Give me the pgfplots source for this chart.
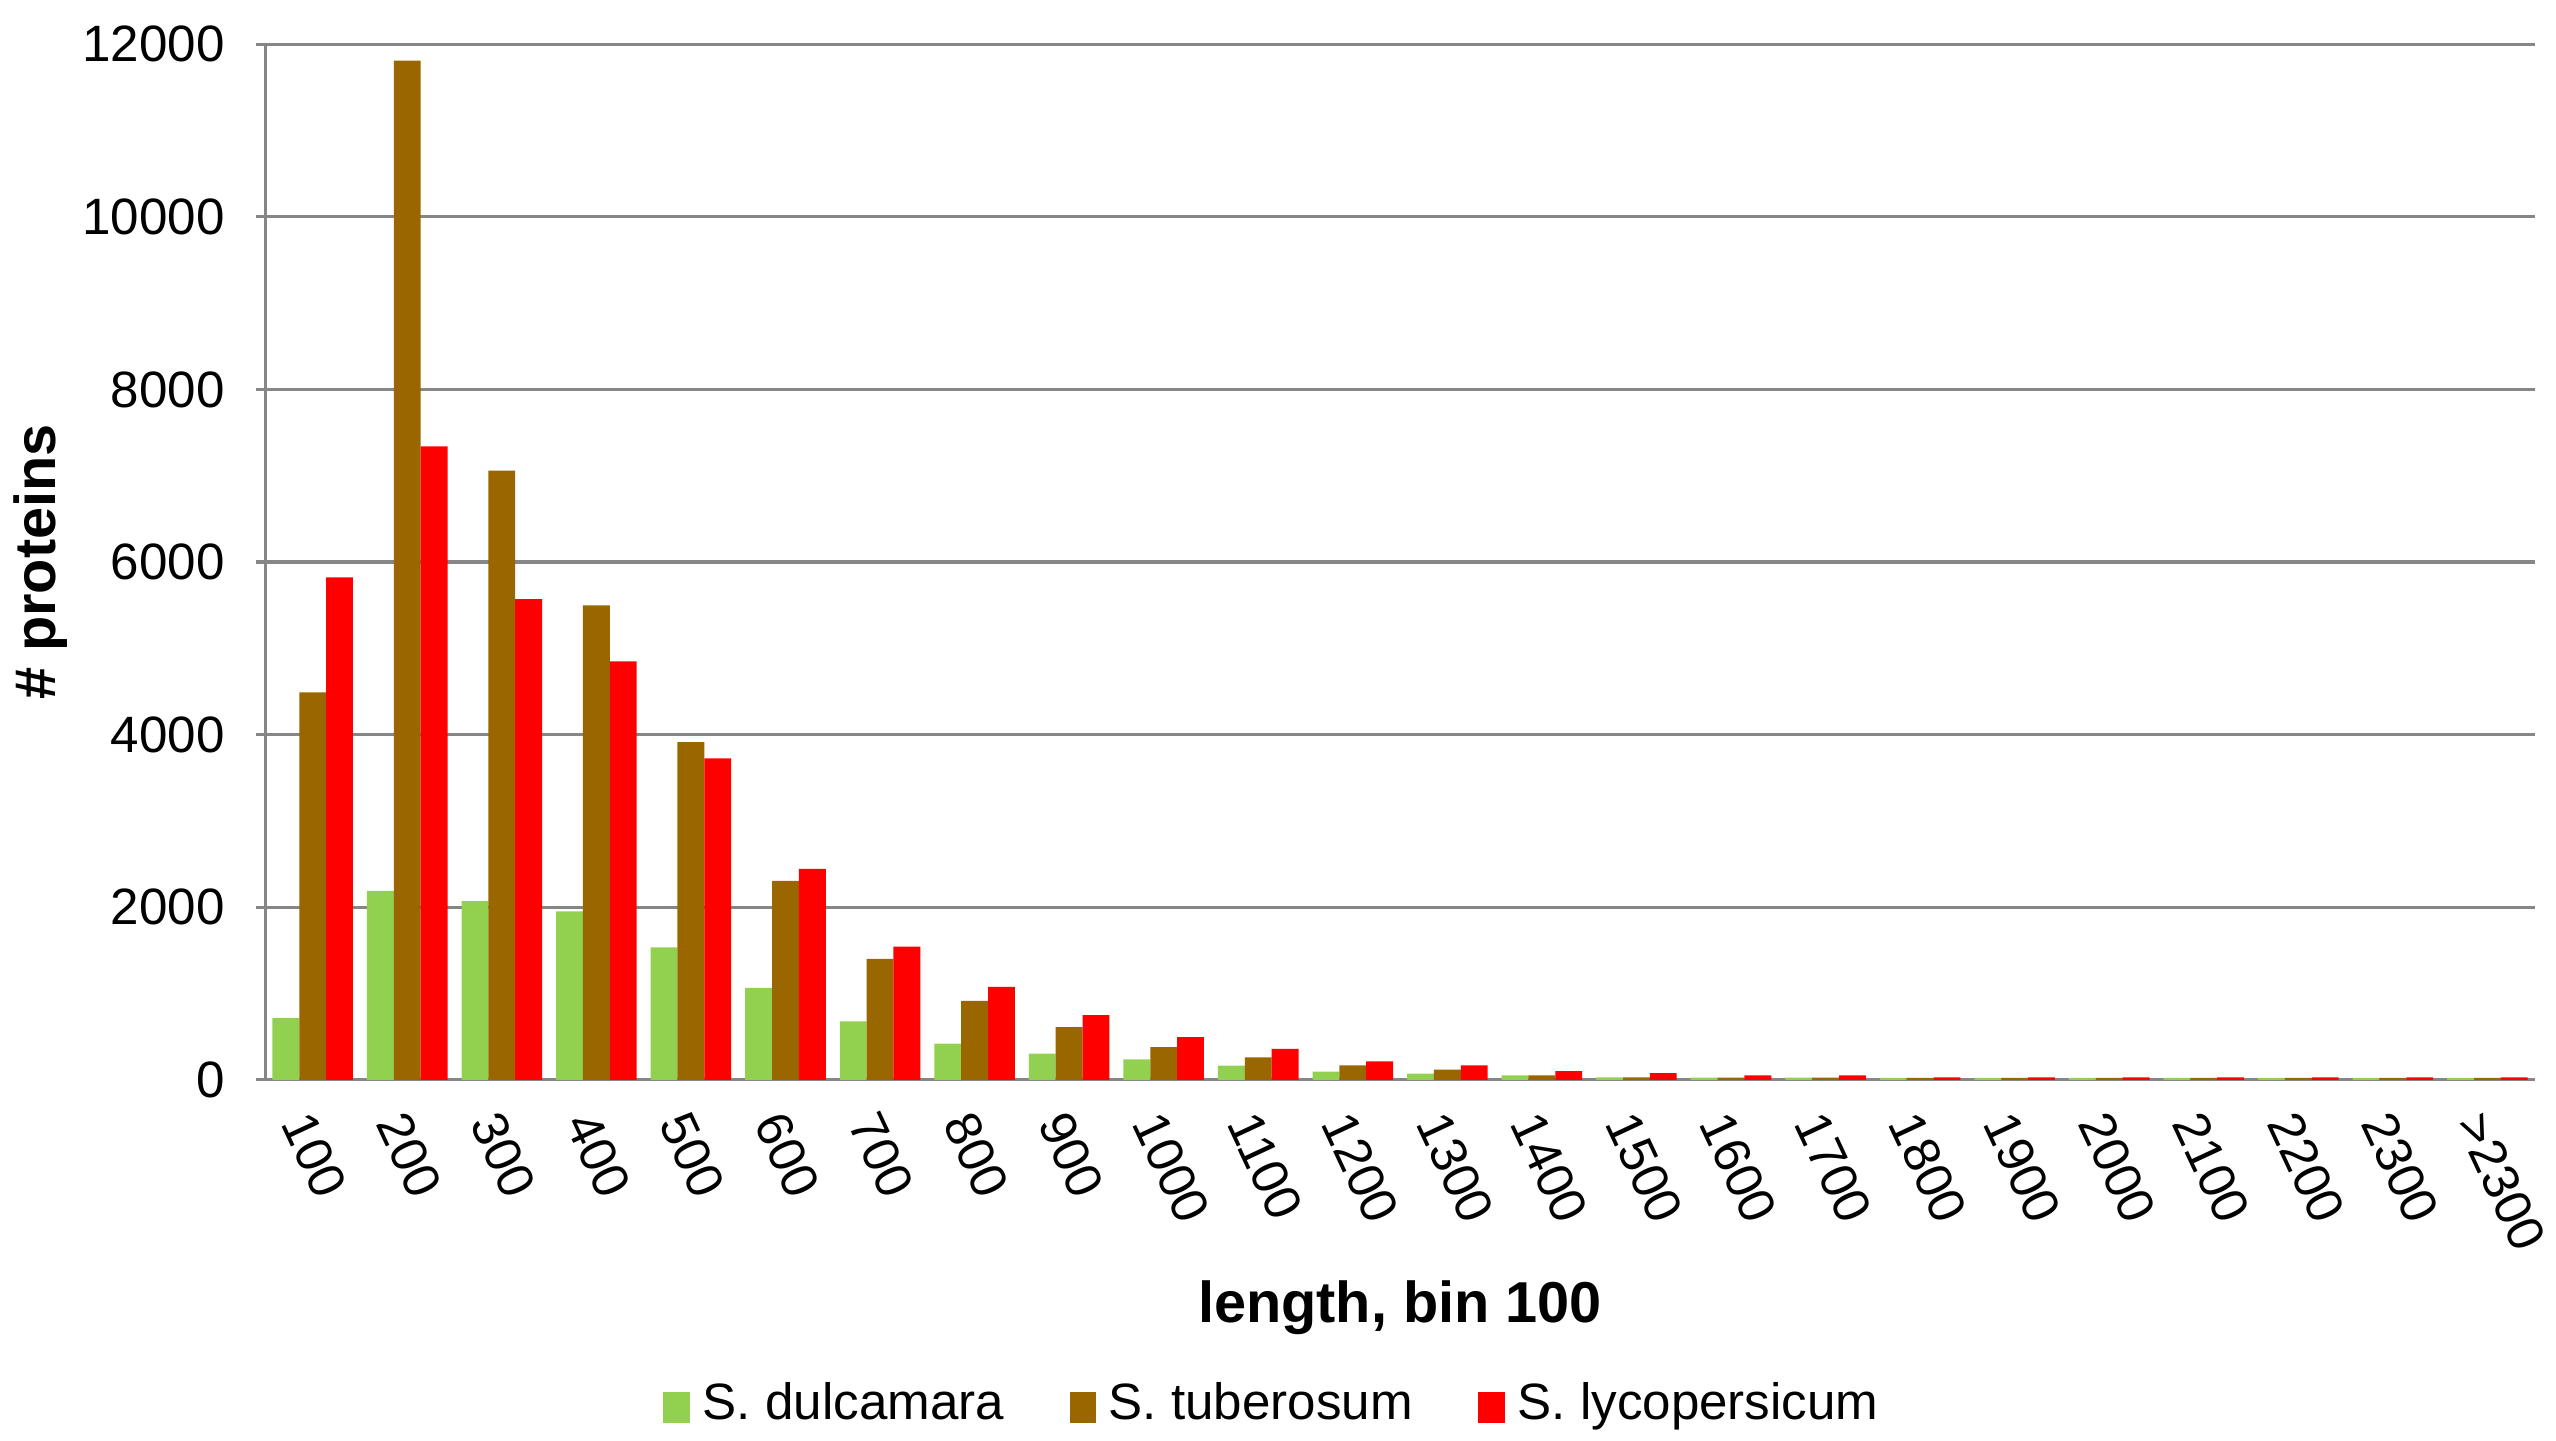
\documentclass[border=0pt]{standalone}
\usepackage{fontspec}
\setmainfont{Liberation Sans}
\usepackage{pgfplots}
\pgfplotsset{compat=1.18}
\definecolor{cgreen}{RGB}{146,208,80}
\definecolor{cbrown}{RGB}{153,102,0}
\definecolor{cred}{RGB}{255,0,0}
\definecolor{cgrid}{RGB}{134,134,134}
\begin{document}
\begin{tikzpicture}
\begin{axis}[
  name=ax,
  scale only axis,
  width=346.25pt, height=158pt,
  xmin=-0.5, xmax=23.5,
  ymin=0, ymax=12000,
  ytick={0,2000,...,12000},
  xtick={0,...,23},
  xticklabels={100,200,300,400,500,600,700,800,900,1000,1100,1200,1300,1400,1500,1600,1700,1800,1900,2000,2100,2200,2300,>2300},
  major x tick style={draw=none},
  extra x ticks={-0.5,0.5,...,23.5},
  extra x tick labels={},
  extra x tick style={major tick length=2.3pt, tick style={draw=cgrid, line width=0.5pt}, tick align=outside, grid=none},
  ymajorgrids,
  grid style={cgrid, line width=0.5pt},
  major y tick style={draw=cgrid, line width=0.5pt},
  tick align=outside,
  major tick length=1.4pt,
  axis x line*=bottom,
  axis y line*=left,
  axis line style={cgrid, line width=0.5pt, -},
  /pgf/number format/assume math mode=true,
  /pgf/number format/1000 sep={},
  scaled y ticks=false,
  tick label style={font=\fontsize{7.8pt}{9pt}\selectfont, text=black},
  xticklabel style={rotate=-65, anchor=west, xshift=-0.8pt, yshift=-4pt},
  yticklabel style={xshift=-1.3pt},
  xlabel={\textbf{length, bin 100}},
  ylabel={\textbf{\# proteins}},
  label style={font=\fontsize{8.8pt}{10pt}\selectfont},
  xlabel style={at={(axis description cs:0.5,-0.22)}, anchor=center},
  ylabel style={at={(axis description cs:-0.099,0.5)}, anchor=center},
  ybar=0pt,
  bar width=0.284,
  legend columns=3,
  legend style={draw=none, at={(axis description cs:0.446,-0.315)}, anchor=center,
    font=\fontsize{7.8pt}{9pt}\selectfont,
    /tikz/every even column/.append style={column sep=8pt}},
  legend image code/.code={\fill[#1] (0pt,-2.6pt) rectangle (4pt,2.2pt);},
  legend cell align=left,
]
\addplot[fill=cgreen, draw=none, bar shift=-0.284] coordinates {
(0,718) (1,2190) (2,2070) (3,1951) (4,1534) (5,1066) (6,676) (7,419) (8,303) (9,237) (10,163) (11,93) (12,70) (13,50) (14,27) (15,25) (16,25) (17,22) (18,22) (19,22) (20,22) (21,22) (22,22) (23,22)};
\addlegendentry{S. dulcamara}
\addplot[fill=cbrown, draw=none, bar shift=0] coordinates {
(0,4489) (1,11810) (2,7059) (3,5498) (4,3912) (5,2304) (6,1402) (7,913) (8,610) (9,377) (10,260) (11,167) (12,117) (13,50) (14,27) (15,25) (16,25) (17,22) (18,22) (19,22) (20,22) (21,22) (22,22) (23,22)};
\addlegendentry{S. tuberosum}
\addplot[fill=cred, draw=none, bar shift=0.284] coordinates {
(0,5821) (1,7339) (2,5571) (3,4848) (4,3724) (5,2445) (6,1542) (7,1076) (8,750) (9,493) (10,357) (11,214) (12,167) (13,100) (14,78) (15,50) (16,50) (17,28) (18,28) (19,28) (20,28) (21,28) (22,28) (23,28)};
\addlegendentry{S. lycopersicum}
\end{axis}
\pgfresetboundingbox
\path (ax.south west) ++(-40.5pt,-55pt) rectangle ++(390pt,219.75pt);
\end{tikzpicture}
\end{document}
